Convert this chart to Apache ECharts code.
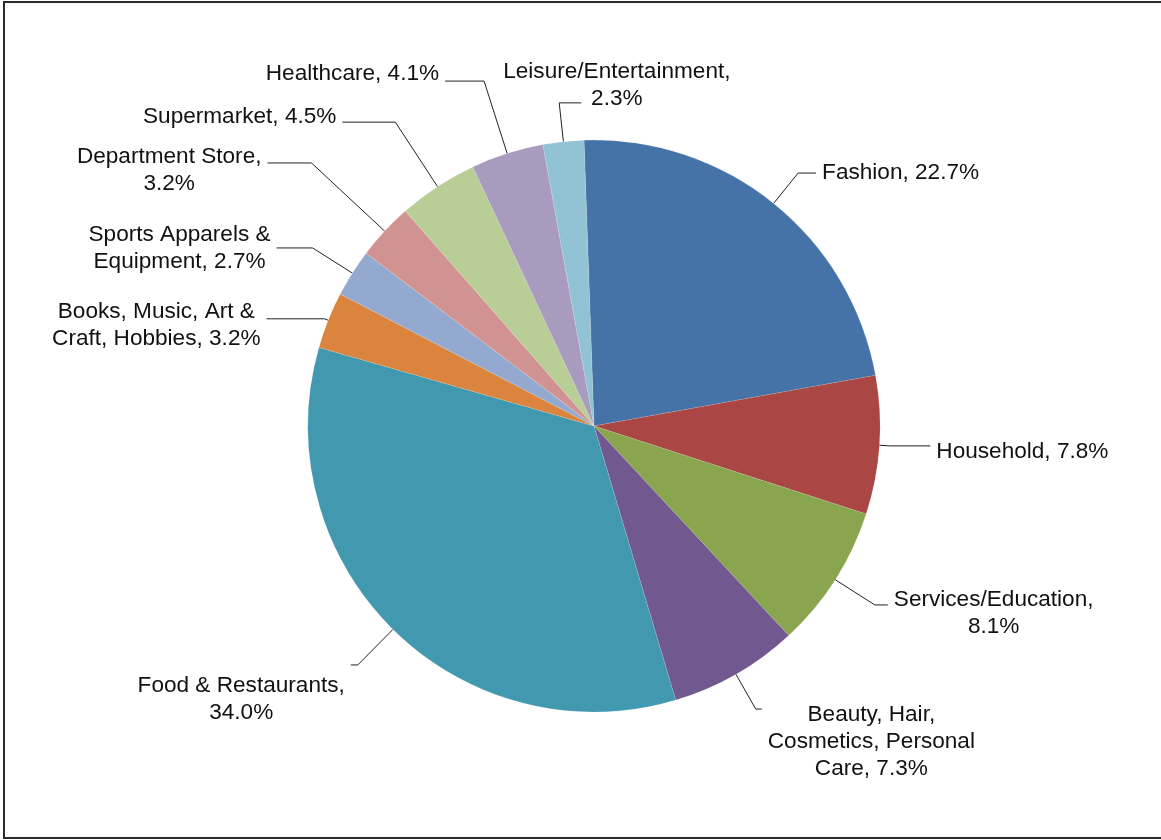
<!DOCTYPE html>
<html>
<head>
<meta charset="utf-8">
<script src="https://cdn.jsdelivr.net/npm/echarts@6/dist/echarts.min.js"></script>
<style>
  html, body { margin: 0; padding: 0; background: #fff; }
  #wrap { position: relative; width: 1161px; height: 840px; overflow: hidden; }
  #frame { position: absolute; left: 3px; top: 1px; width: 1170px; height: 838px; box-sizing: border-box;
           border-top: 2px solid #2a2a2a; border-left: 2px solid #2a2a2a; border-bottom: 2px solid #2a2a2a; }
  #chart { position: absolute; left: 0; top: 0; width: 1161px; height: 840px; }
</style>
</head>
<body>
<div id="wrap">
  <div id="frame"></div>
  <div id="chart"></div>
</div>
<script>
// slices, clockwise from the top
var categories = [
  'Fashion',
  'Household',
  'Services/Education',
  'Beauty, Hair,\nCosmetics, Personal\nCare',
  'Food & Restaurants',
  'Books, Music, Art &\nCraft, Hobbies',
  'Sports Apparels &\nEquipment',
  'Department Store',
  'Supermarket',
  'Healthcare',
  'Leisure/Entertainment'
];
var shares = [22.7, 7.8, 8.1, 7.3, 34.0, 3.2, 2.7, 3.2, 4.5, 4.1, 2.3];
// value goes on its own line after the name
var breakBeforeValue = [false, false, true, false, true, false, false, true, false, false, true];

var colors = ['#4572A7', '#AA4643', '#89A54E', '#71588F', '#4198AF', '#DB843D',
              '#93A9CF', '#D19392', '#B9CD96', '#A99BBD', '#92C3D4'];

// leader line lengths and text nudges, per slice
var lineLen  = [39, 10, 47, 40, 50, 4, 47, 100, 77, 76, 39];
var lineLen2 = [18, 41, 13, 6, 7, 58, 36, 44, 53, 39, 16];
var labelPad = [
  [0, 0, 0, 0], [12, 0, 0, 0], [17, 0, 0, 0], [66, 0, 0, 0], [69, 0, 0, 0], [13, 0, 0, 0],
  [0, 0, 0, 0], [15, 0, 0, 0], [0, 0, 10, 0], [0, 0, 14, 0], [0, 0, 0, 0]
];
var LEISURE = 10;

var chart = echarts.init(document.getElementById('chart'), null, { renderer: 'canvas' });

var data = categories.map(function (name, i) {
  return {
    name: name,
    value: shares[i],
    itemStyle: { color: colors[i] },
    label: { padding: labelPad[i] },
    labelLine: { length: lineLen[i], length2: lineLen2[i] }
  };
});

chart.setOption({
  animation: false,
  series: [{
    type: 'pie',
    center: [594, 426],
    radius: 286,
    startAngle: 92,
    clockwise: true,
    avoidLabelOverlap: false,
    minShowLabelAngle: 0,
    data: data,
    itemStyle: { borderColor: 'rgba(255,255,255,0.3)', borderWidth: 0.4 },
    emphasis: { disabled: true },
    label: {
      show: true,
      position: 'outside',
      alignTo: 'none',
      distanceToLabelLine: 6,
      formatter: function (p) {
        var i = p.dataIndex;
        var txt = categories[i] + (breakBeforeValue[i] ? ',\n' : ', ') + shares[i].toFixed(1) + '%';
        return txt.split('\n').map(function (l) { return '{c|' + l + '}'; }).join('\n');
      },
      rich: {
        c: {
          align: 'center',
          fontFamily: '"Liberation Sans", Arial, Helvetica, sans-serif',
          fontSize: 22.6,
          lineHeight: 27,
          color: '#111'
        }
      }
    },
    labelLine: {
      show: true,
      smooth: false,
      lineStyle: { color: '#222', width: 1 }
    },
    labelLayout: function (p) {
      if (p.dataIndex !== LEISURE || !p.labelLinePoints) return {};
      var pts = p.labelLinePoints;
      var p2 = pts[1];
      var x3 = p2[0] + 22;
      return {
        x: x3 - 78,
        y: p2[1] - 18,
        align: 'left',
        verticalAlign: 'middle',
        labelLinePoints: [pts[0], p2, [x3, p2[1]]]
      };
    }
  }]
});
</script>
</body>
</html>
